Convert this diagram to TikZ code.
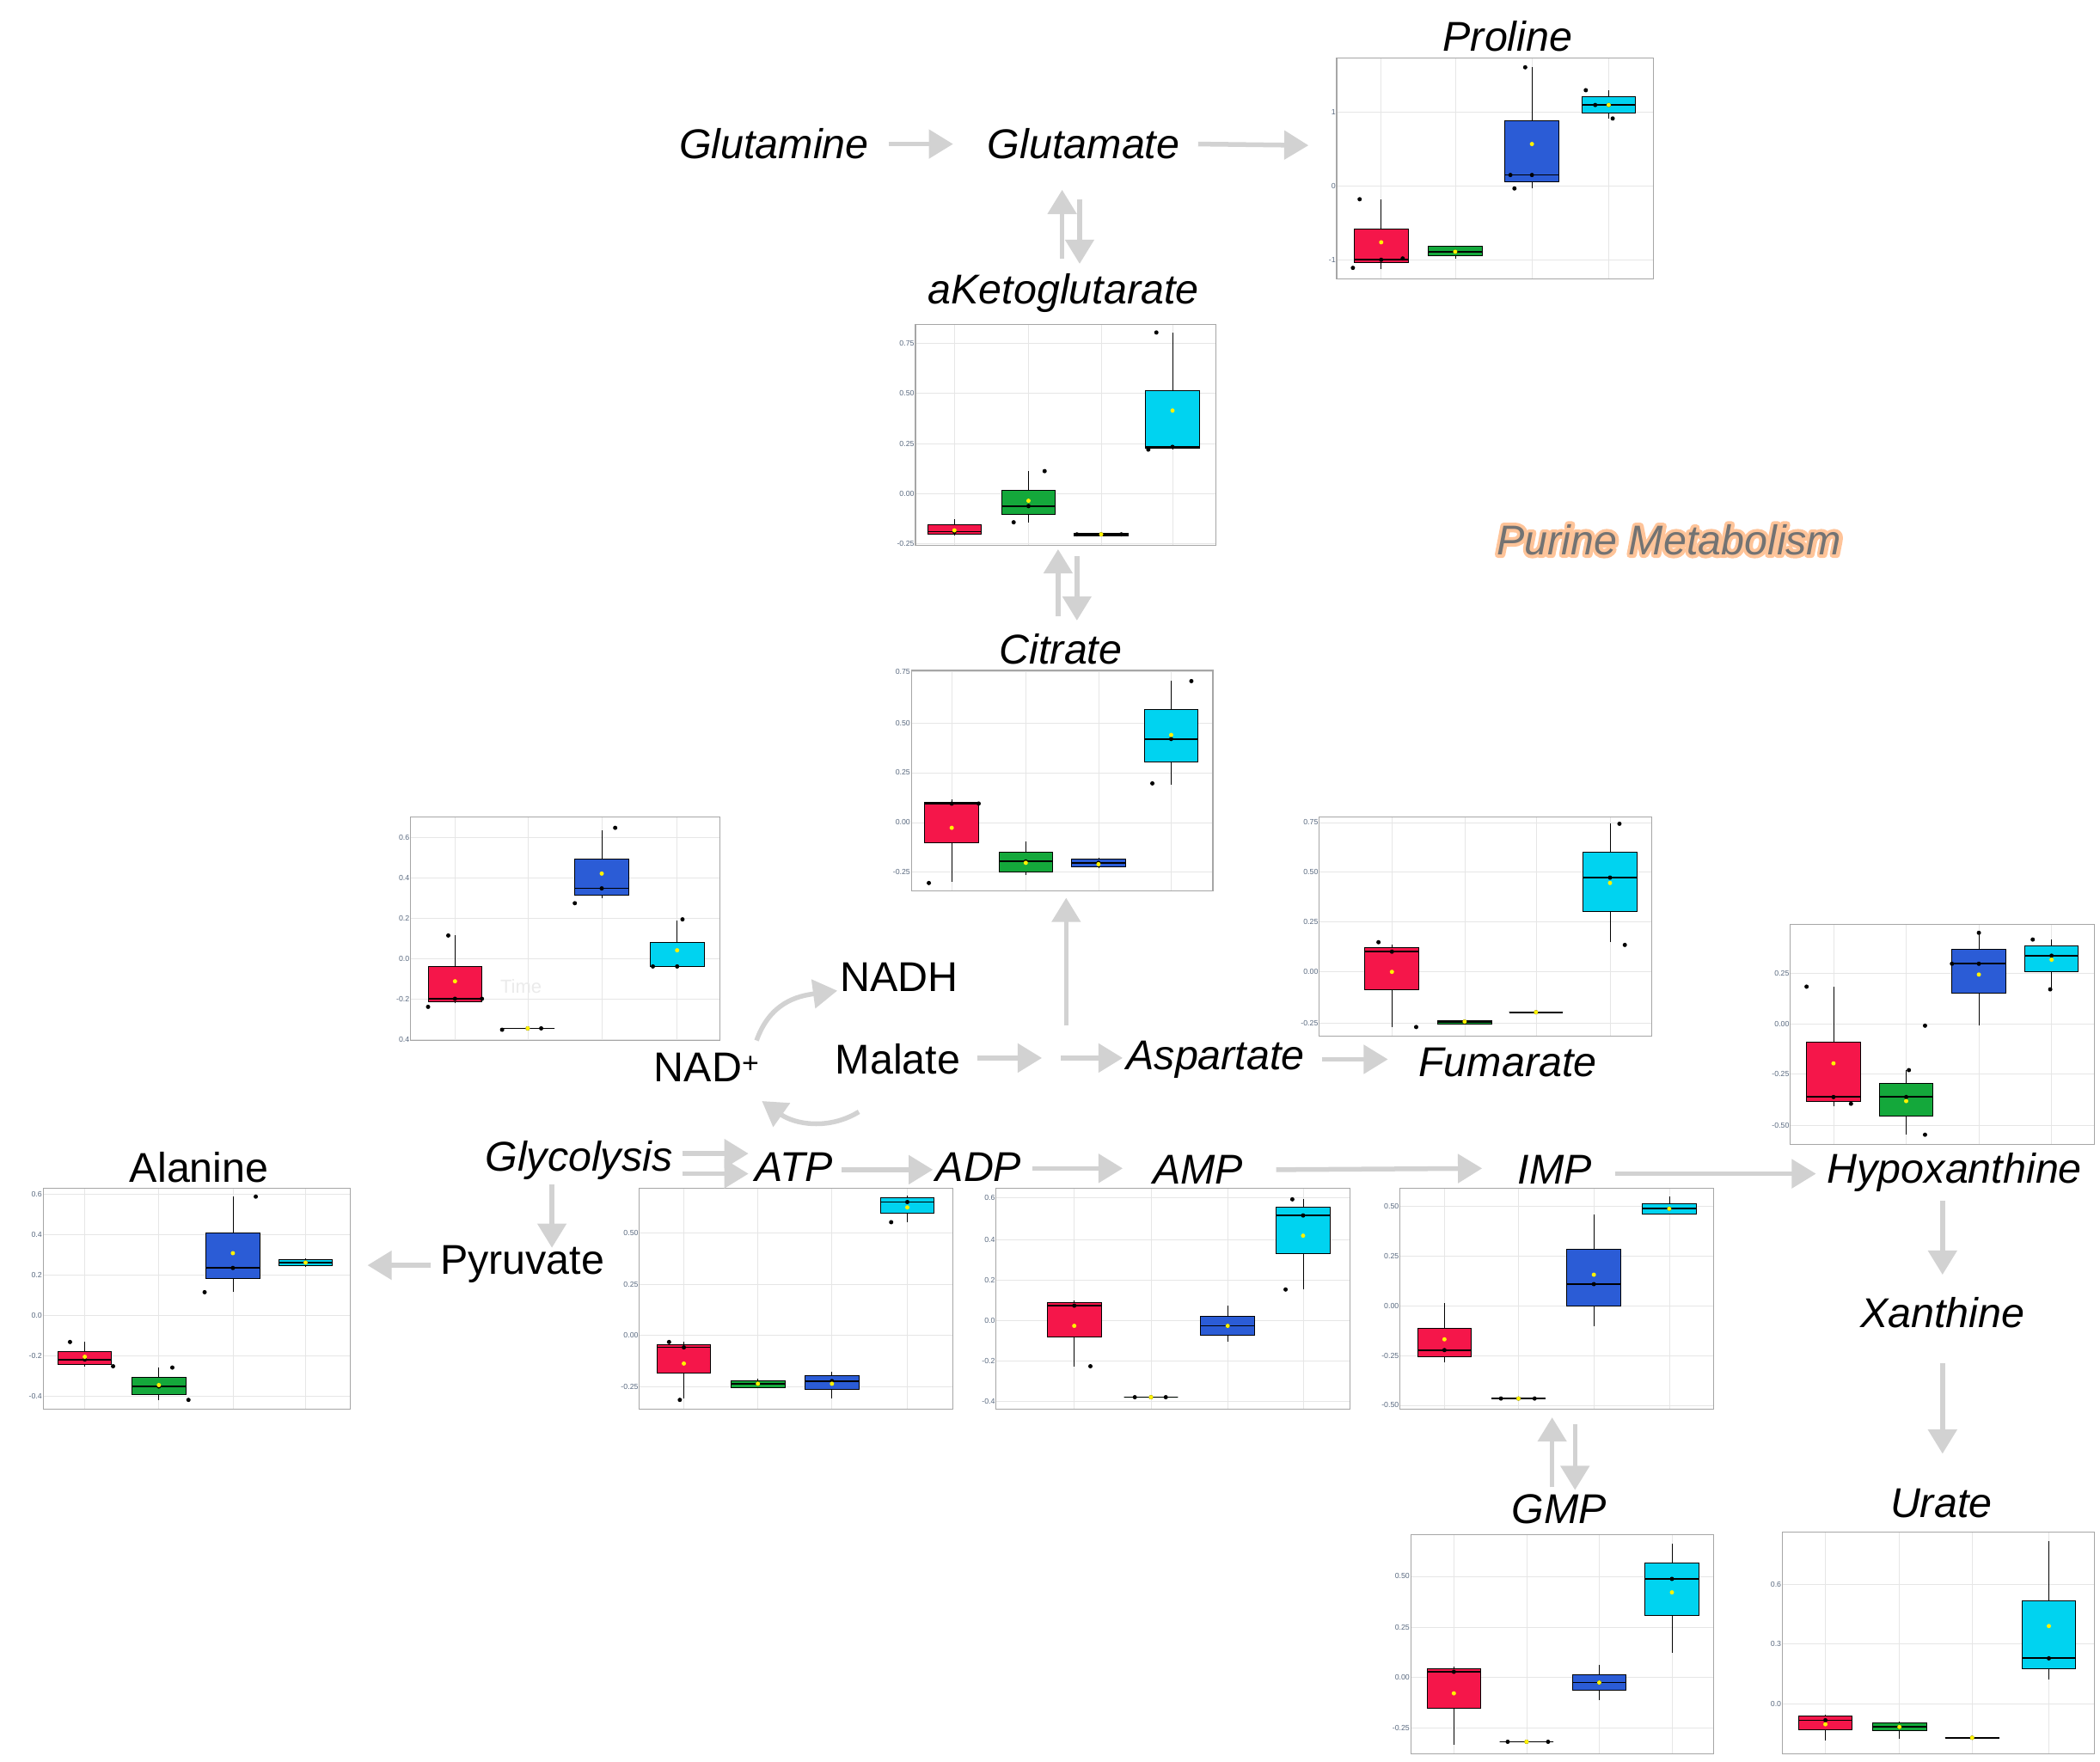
\documentclass[tikz,border=0pt]{standalone}
\usepackage{fontspec}
\setmainfont{Liberation Sans}
\usetikzlibrary{arrows.meta}
\definecolor{cr}{HTML}{F5164A}\definecolor{cg}{HTML}{14A83B}
\definecolor{cb}{HTML}{2B5CD6}\definecolor{cc}{HTML}{00D3F0}
\definecolor{ar}{HTML}{D2D2D2}\definecolor{gr}{HTML}{E6E6E6}
\definecolor{tk}{HTML}{5A6A80}\definecolor{glow}{HTML}{FFC499}
\newcommand\hwd{20}
\newcommand\bx[8]{%
 \draw[line width=0.7pt] (#1,#2)--(#1,#6);
 \draw[fill=#8,line width=0.9pt] ({#1-\hwd},#3) rectangle ({#1+\hwd},#5);
 \draw[line width=1.6pt] ({#1-\hwd},#4)--({#1+\hwd},#4);
 \fill (#1,#4) circle (1.6);
 \fill[yellow] (#1,#7) circle (1.6);}
\newcommand\dt[2]{\fill (#1,#2) circle (1.6);}
\newcommand\frm[8]{%
 \foreach \c in {#5,#6,#7,#8}{\draw[gr,line width=0.6pt] (\c,#2)--(\c,#4);}
 \draw[gray!70,line width=1.1pt] (#1,#2) rectangle (#3,#4);}
\newcommand\tk[4]{%
 \draw[gr,line width=0.6pt] (#1,#3)--(#2,#3);
 \node[anchor=east,font=\fontsize{8}{9}\selectfont,text=tk,inner sep=1pt] at (#1,#3) {#4};}
\tikzset{lab/.style={font=\fontsize{44}{50}\selectfont\itshape,inner sep=0pt},
 labu/.style={font=\fontsize{44}{50}\selectfont,inner sep=0pt},
 arr/.style={draw=ar,line width=5pt,-{Triangle[length=0.9cm,width=1.05cm]}}}
\begin{document}
\begin{tikzpicture}[x=0.05cm,y=-0.05cm]
\useasboundingbox[fill=white] (0,0) rectangle (1560,1309);
% ---------- Proline
\tk{993}{1228}{83}{1}\tk{993}{1228}{138}{0}\tk{993}{1228}{193}{-1}
\frm{993}{43}{1228}{207}{1026}{1081}{1138}{1195}
\bx{1026}{200}{195}{193}{170}{148}{180}{cr}\dt{1005}{199}\dt{1010}{148}\dt{1042}{192}
\bx{1081}{192}{190}{187}{183}{183}{187}{cg}
\bx{1138}{140}{135}{130}{90}{50}{107}{cb}\dt{1133}{50}\dt{1125}{140}\dt{1122}{130}
\bx{1195}{88}{84}{78}{72}{67}{78}{cc}\dt{1178}{67}\dt{1198}{88}\dt{1185}{78}
% ---------- aKeto
\foreach \y/\l in {255/0.75,292/0.50,330/0.25,367/0.00,404/-0.25}{\tk{680}{903}{\y}{\l}}
\frm{680}{241}{903}{405}{709}{764}{818}{871}
\bx{709}{398}{397}{395}{390}{386}{394}{cr}
\bx{764}{388}{382}{376}{364}{350}{372}{cg}\dt{753}{388}\dt{776}{350}
\bx{818}{398}{398}{397}{396}{396}{397}{cb}\dt{800}{397}\dt{833}{397}
\bx{871}{334}{333}{332}{290}{247}{305}{cc}\dt{859}{247}\dt{853}{334}
% ---------- Citrate
\foreach \y/\l in {499/0.75,537/0.50,574/0.25,611/0.00,648/-0.25}{\tk{677}{901}{\y}{\l}}
\frm{677}{498}{901}{662}{707}{762}{816}{870}
\bx{707}{655}{626}{597}{596}{594}{615}{cr}\dt{690}{656}\dt{727}{597}
\bx{762}{650}{648}{640}{633}{625}{641}{cg}
\bx{816}{645}{644}{641}{638}{637}{642}{cb}
\bx{870}{583}{566}{549}{527}{506}{546}{cc}\dt{856}{582}\dt{885}{506}
% ---------- NAD plot
\foreach \y/\l in {622/0.6,652/0.4,682/0.2,712/0.0,742/-0.2,772/0.4}{\tk{305}{535}{\y}{\l}}
\frm{305}{607}{535}{773}{338}{392}{447}{503}
\bx{338}{745}{744}{742}{718}{695}{729}{cr}\dt{333}{695}\dt{318}{748}\dt{358}{742}
\bx{392}{764}{764}{764}{764}{764}{764}{cg}\dt{373}{765}\dt{402}{764}
\bx{447}{667}{665}{660}{638}{617}{649}{cb}\dt{457}{615}\dt{427}{671}
\bx{503}{718}{718}{718}{700}{684}{706}{cc}\dt{507}{683}\dt{485}{718}
\node[font=\fontsize{20}{22}\selectfont,text=black!8] (time) at (387,733) {Time};
% ---------- Fumarate plot
\foreach \y/\l in {611/0.75,648/0.50,685/0.25,722/0.00,760/-0.25}{\tk{980}{1227}{\y}{\l}}
\frm{980}{607}{1227}{770}{1034}{1088}{1141}{1196}
\bx{1034}{763}{735}{707}{704}{702}{722}{cr}\dt{1024}{700}\dt{1052}{763}
\bx{1088}{761}{761}{759}{758}{757}{759}{cg}
\bx{1141}{752}{752}{752}{752}{752}{752}{cb}
\bx{1196}{700}{677}{652}{633}{612}{656}{cc}\dt{1203}{612}\dt{1207}{702}
% ---------- Hypoxanthine plot
\foreach \y/\l in {723/0.25,761/0.00,798/-0.25,836/-0.50}{\tk{1330}{1556}{\y}{\l}}
\frm{1330}{687}{1556}{850}{1362}{1416}{1470}{1524}
\bx{1362}{822}{818}{815}{774}{733}{790}{cr}\dt{1342}{733}\dt{1375}{820}
\bx{1416}{843}{829}{815}{805}{795}{818}{cg}\dt{1430}{843}\dt{1418}{795}
\bx{1470}{762}{738}{716}{705}{693}{724}{cb}\dt{1430}{762}\dt{1450}{716}\dt{1470}{693}
\bx{1524}{735}{722}{710}{703}{698}{713}{cc}\dt{1523}{735}\dt{1510}{698}
% ---------- Alanine
\foreach \y/\l in {887/0.6,917/0.4,947/0.2,977/0.0,1007/-0.2,1037/-0.4}{\tk{32}{260}{\y}{\l}}
\frm{32}{883}{260}{1047}{63}{118}{173}{227}
\bx{63}{1015}{1014}{1010}{1004}{997}{1008}{cr}\dt{52}{997}\dt{84}{1015}
\bx{118}{1040}{1036}{1030}{1023}{1016}{1029}{cg}\dt{128}{1016}\dt{140}{1040}
\bx{173}{960}{950}{942}{916}{889}{931}{cb}\dt{152}{960}\dt{190}{889}
\bx{227}{941}{940}{938}{936}{935}{938}{cc}
% ---------- ATP
\foreach \y/\l in {916/0.50,954/0.25,992/0.00,1030/-0.25}{\tk{475}{708}{\y}{\l}}
\frm{475}{883}{708}{1047}{508}{563}{618}{674}
\bx{508}{1039}{1020}{1001}{999}{997}{1013}{cr}\dt{505}{1040}\dt{497}{997}
\bx{563}{1031}{1031}{1028}{1026}{1024}{1028}{cg}
\bx{618}{1039}{1032}{1026}{1022}{1019}{1028}{cb}
\bx{674}{908}{901}{893}{890}{888}{897}{cc}\dt{662}{908}
% ---------- AMP
\foreach \y/\l in {890/0.6,921/0.4,951/0.2,981/0.0,1011/-0.2,1041/-0.4}{\tk{740}{1003}{\y}{\l}}
\frm{740}{883}{1003}{1047}{798}{855}{912}{968}
\bx{798}{1015}{993}{970}{968}{966}{985}{cr}\dt{810}{1015}
\bx{855}{1038}{1038}{1038}{1038}{1038}{1038}{cg}\dt{843}{1038}\dt{866}{1038}
\bx{912}{997}{992}{985}{978}{970}{985}{cb}
\bx{968}{958}{931}{903}{897}{891}{918}{cc}\dt{955}{958}\dt{960}{891}
% ---------- IMP
\foreach \y/\l in {896/0.50,933/0.25,970/0.00,1007/-0.25,1044/-0.50}{\tk{1040}{1273}{\y}{\l}}
\frm{1040}{883}{1273}{1047}{1073}{1128}{1184}{1240}
\bx{1073}{1012}{1008}{1003}{987}{968}{995}{cr}
\bx{1128}{1039}{1039}{1039}{1039}{1039}{1039}{cg}\dt{1115}{1039}\dt{1140}{1039}
\bx{1184}{985}{970}{954}{928}{902}{947}{cb}
\bx{1240}{902}{902}{898}{894}{889}{898}{cc}
% ---------- GMP
\foreach \y/\l in {1171/0.50,1209/0.25,1246/0.00,1284/-0.25}{\tk{1048}{1273}{\y}{\l}}
\frm{1048}{1140}{1273}{1303}{1080}{1134}{1188}{1242}
\bx{1080}{1296}{1269}{1242}{1240}{1238}{1258}{cr}
\bx{1134}{1294}{1294}{1294}{1294}{1294}{1294}{cg}\dt{1120}{1294}\dt{1150}{1294}
\bx{1188}{1263}{1256}{1250}{1244}{1237}{1250}{cb}
\bx{1242}{1228}{1200}{1173}{1161}{1147}{1183}{cc}
% ---------- Urate
\foreach \y/\l in {1177/0.6,1221/0.3,1266/0.0}{\tk{1324}{1556}{\y}{\l}}
\frm{1324}{1138}{1556}{1303}{1356}{1411}{1465}{1522}
\bx{1356}{1293}{1285}{1278}{1275}{1274}{1281}{cr}
\bx{1411}{1292}{1286}{1283}{1280}{1279}{1283}{cg}
\bx{1465}{1291}{1291}{1291}{1291}{1291}{1291}{cb}
\bx{1522}{1248}{1240}{1232}{1189}{1145}{1208}{cc}
% ---------- labels
\node[lab] (gln) at (575,107) {Glutamine};
\node[lab] (glu) at (805,107) {Glutamate};
\node[lab] (pro) at (1120,27) {Proline};
\node[lab] (akg) at (790,218) {aKetoglutarate};
\node[lab] (cit) at (788,482) {Citrate};
\node[labu] (nadh) at (668,726) {NADH};
\node[labu] (mal) at (667,787) {Malate};
\node[labu] (nad) at (525,793) {NAD\textsuperscript{+}};
\node[lab] (asp) at (903,787) {Aspartate};
\node[lab] (fum) at (1120,789) {Fumarate};
\node[lab] (gly) at (430,862) {Glycolysis};
\node[lab] (atp) at (590,867) {ATP};
\node[lab] (adp) at (727,867) {ADP};
\node[lab] (amp) at (890,869) {AMP};
\node[lab] (imp) at (1155,869) {IMP};
\node[lab] (hyp) at (1452,871) {Hypoxanthine};
\node[labu] (ala) at (148,867) {Alanine};
\node[labu] (pyr) at (388,939) {Pyruvate};
\node[lab] (xan) at (1443,975) {Xanthine};
\node[lab] (ura) at (1442,1117) {Urate};
\node[lab] (gmp) at (1158,1121) {GMP};
\node[lab,text=glow] (purg) at (1240,401) {\special{pdf:code 1 j 2 Tr 7 w 1 0.77 0.6 RG}Purine Metabolism\special{pdf:code 0 Tr 1 w}};
\node[lab,text=black!55] (pur) at (1240,401) {Purine Metabolism};
% ---------- arrows
\draw[arr] (660,107)--(708,107);
\draw[arr] (890,107)--(972,108);
\draw[arr] (789,192)--(789,141);
\draw[arr] (802,148)--(802,196);
\draw[arr] (786,458)--(786,408);
\draw[arr] (800,413)--(800,461);
\draw[arr] (792,762)--(792,667);
\draw[arr] (726,786)--(774,786);
\draw[arr] (788,786)--(834,786);
\draw[arr] (982,787)--(1031,787);
\draw[arr] (562,773) .. controls (572,745) and (592,740) .. (622,736);
\draw[arr] (638,826) .. controls (615,840) and (590,835) .. (566,818);
\draw[arr] (507,857)--(556,857);
\draw[arr] (507,872)--(556,872);
\draw[arr] (625,869)--(693,869);
\draw[arr] (767,868)--(834,868);
\draw[arr] (948,869)--(1101,868);
\draw[arr] (1200,872)--(1349,872);
\draw[arr] (410,880)--(410,927);
\draw[arr] (320,940)--(273,940);
\draw[arr] (1443,892)--(1443,947);
\draw[arr] (1443,1013)--(1443,1080);
\draw[arr] (1153,1105)--(1153,1053);
\draw[arr] (1170,1058)--(1170,1107);
\end{tikzpicture}
\end{document}
